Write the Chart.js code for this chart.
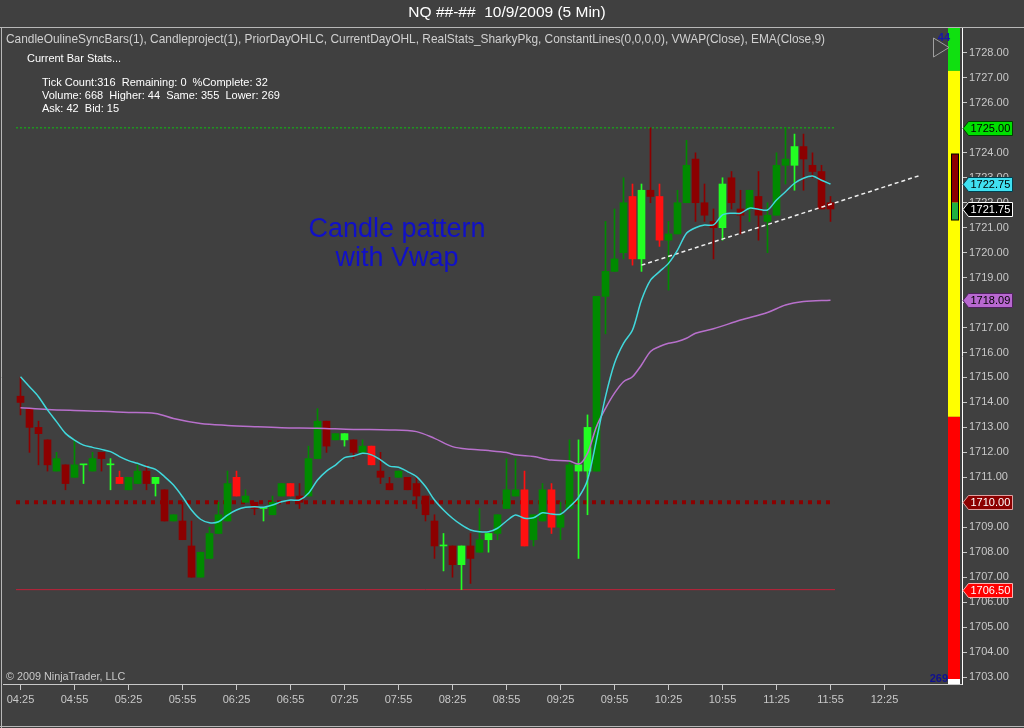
<!DOCTYPE html>
<html>
<head>
<meta charset="utf-8">
<script src="https://cdn.jsdelivr.net/npm/chart.js@4.4.0/dist/chart.umd.min.js"></script>
<style>
  html, body { margin: 0; padding: 0; background: #404040; }
  #wrap { width: 1024px; height: 728px; }
</style>
</head>
<body>
<div id="wrap"><canvas id="nqChart" width="1024" height="728"></canvas></div>
<script>
// NQ 5 min bars, 04:25 .. 11:55 (bar index 0 = 04:25)
const timeLabels = ['04:25','04:55','05:25','05:55','06:25','06:55','07:25','07:55','08:25',
  '08:55','09:25','09:55','10:25','10:55','11:25','11:55','12:25'];

const opens = [1714.25,1713.75,1713.0,1712.5,1711.25,1711.5,1711.0,1711.5,1711.25,1712.0,
  1711.5,1711.0,1710.5,1710.75,1711.25,1710.75,1710.5,1709.25,1709.25,1708.25,
  1707.0,1707.75,1708.75,1709.25,1711.0,1710.0,1710.0,1709.75,1709.5,1710.25,
  1710.75,1710.25,1710.25,1711.75,1713.25,1712.5,1712.5,1712.5,1712.0,1712.25,
  1711.25,1710.75,1711.0,1711.0,1710.75,1710.25,1709.25,1708.25,1708.25,1707.5,
  1708.25,1708.0,1708.5,1708.75,1709.75,1710.25,1710.5,1708.5,1709.25,1710.5,
  1709.0,1709.75,1711.25,1711.25,1711.25,1718.25,1719.25,1720.0,1722.25,1719.75,
  1722.5,1722.25,1720.5,1720.75,1722.0,1723.75,1722.0,1721.25,1721.0,1723.0,
  1721.75,1721.75,1722.25,1721.25,1721.5,1723.5,1723.5,1724.25,1723.5,1723.25,
  1722.0];
const highs = [1715.0,1713.75,1713.25,1712.5,1712.0,1711.5,1712.5,1711.5,1712.0,1712.0,
  1711.75,1711.25,1711.0,1711.5,1711.5,1711.0,1710.5,1709.5,1710.0,1709.25,
  1708.0,1709.0,1710.0,1711.25,1711.25,1710.5,1710.0,1709.75,1710.25,1710.75,
  1710.75,1710.75,1712.25,1713.75,1713.25,1712.75,1712.75,1712.5,1712.5,1712.25,
  1712.0,1711.0,1711.25,1711.0,1711.0,1710.25,1709.5,1708.75,1708.25,1708.25,
  1708.75,1709.75,1708.75,1709.5,1711.75,1711.75,1711.25,1709.5,1710.75,1710.75,
  1710.0,1712.5,1712.5,1713.5,1718.25,1721.25,1721.75,1723.0,1722.75,1722.75,
  1725.0,1722.75,1721.25,1722.5,1724.5,1724.0,1722.75,1721.75,1723.0,1723.25,
  1722.5,1722.5,1723.25,1722.0,1724.0,1725.0,1724.75,1724.75,1724.0,1723.5,
  1722.25];
const lows = [1713.5,1712.0,1711.5,1711.25,1711.25,1710.5,1711.0,1710.75,1711.25,1711.25,
  1710.5,1710.75,1710.5,1710.75,1710.5,1710.25,1709.25,1709.25,1708.5,1707.0,
  1707.0,1707.75,1708.75,1709.25,1710.25,1710.0,1709.5,1709.25,1709.5,1710.25,
  1710.25,1709.75,1710.25,1711.75,1712.0,1712.5,1712.25,1711.75,1712.0,1711.5,
  1710.75,1710.5,1711.0,1710.5,1709.75,1709.25,1707.75,1707.25,1707.0,1706.5,
  1706.75,1708.0,1708.0,1708.5,1709.75,1710.25,1708.25,1708.25,1709.25,1708.75,
  1708.5,1709.75,1707.75,1709.5,1711.25,1716.75,1719.25,1719.75,1719.5,1719.25,
  1722.0,1720.25,1718.5,1720.75,1722.0,1721.25,1721.25,1719.75,1720.5,1721.75,
  1720.75,1721.25,1720.5,1720.0,1721.5,1722.75,1722.5,1722.5,1723.0,1721.75,
  1721.25];
const closes = [1714.0,1713.0,1712.75,1711.5,1711.75,1710.75,1711.5,1711.5,1711.75,1711.75,
  1711.5,1710.75,1711.0,1711.25,1710.75,1711.0,1709.25,1709.5,1708.5,1707.0,
  1708.0,1708.75,1709.5,1710.75,1710.25,1710.25,1709.75,1709.75,1710.0,1710.75,
  1710.25,1710.0,1711.75,1713.25,1712.25,1712.75,1712.75,1712.0,1712.25,1711.5,
  1711.0,1710.5,1711.25,1710.5,1710.25,1709.5,1708.25,1708.25,1707.5,1708.25,
  1707.75,1708.5,1708.75,1709.5,1710.5,1710.5,1708.25,1709.5,1710.5,1709.0,
  1709.5,1711.5,1711.5,1713.0,1718.25,1719.25,1719.75,1722.0,1719.75,1722.5,
  1722.25,1720.5,1720.75,1722.0,1723.5,1722.0,1721.5,1721.0,1722.75,1722.0,
  1721.5,1722.5,1721.5,1721.5,1723.5,1723.75,1724.25,1723.75,1723.25,1721.75,
  1721.75];

// bars flagged by CandleOulineSyncBars (drawn bright)
const patternBars = [7,10,11,15,24,27,30,36,39,47,49,52,56,59,62,63,68,69,71,78,86];

const ema9 = [1715.03,1714.63,1714.23,1713.70,1713.23,1712.76,1712.49,1712.29,1712.20,1712.12,
  1712.03,1711.83,1711.67,1711.56,1711.43,1711.32,1711.03,1710.69,1710.22,1709.69,
  1709.32,1709.18,1709.22,1709.49,1709.69,1709.80,1709.82,1709.80,1709.89,1710.02,
  1710.09,1710.09,1710.36,1710.89,1711.25,1711.49,1711.79,1711.85,1711.96,1711.90,
  1711.70,1711.45,1711.40,1711.23,1711.03,1710.63,1710.09,1709.69,1709.36,1709.09,
  1708.89,1708.82,1708.82,1708.96,1709.25,1709.49,1709.36,1709.38,1709.58,1709.53,
  1709.52,1709.82,1710.19,1710.89,1712.50,1714.23,1715.57,1716.37,1716.90,1718.10,
  1718.90,1719.24,1719.57,1720.10,1720.78,1721.00,1721.11,1721.11,1721.51,1721.58,
  1721.58,1721.78,1721.74,1721.71,1722.11,1722.44,1722.78,1722.98,1723.07,1722.90,
  1722.75];

const vwapBars = [0,3,7,12,15,17,20,23,26,29,33,37,41,44,46,48,50,52,54,55,57,59,61,62,
  63,64,65,66,67,68,69,70,71,72,73,74,75,77,80,83,85,87,90];
const vwapValues = [1713.79,1713.72,1713.67,1713.60,1713.56,1713.36,1713.16,1713.08,1713.03,
  1712.99,1712.97,1712.92,1712.90,1712.83,1712.56,1712.23,1712.12,1712.07,1711.99,1711.90,
  1711.83,1711.69,1711.65,1711.53,1711.96,1713.03,1713.76,1714.37,1714.83,1715.03,1715.50,
  1716.04,1716.24,1716.37,1716.44,1716.57,1716.77,1716.95,1717.30,1717.60,1717.90,1718.04,1718.09];

const dayHigh = 1725.00;
const dayLow = 1706.50;
const constLevel = 1710.00;
const trendFrom = [69, 1719.5];
const trendTo = [100, 1723.1];

// price tags on the right axis
const tagValues = [1725.00, 1722.75, 1721.75, 1718.09, 1710.00, 1706.50];
const tagFill = ['#00e000', '#40e0f0', '#000000', '#b868d0', '#8c0000', '#ff0000'];
const tagText = ['#000000', '#000000', '#ffffff', '#000000', '#ffffff', '#ffffff'];
const tagEdge = ['#004000', '#004050', '#ffffff', '#502060', '#e0a0a0', '#ffb0b0'];

// RealStats
const tickCount = 316, remaining = 0, pctComplete = 32;
const volume = 668, higher = 44, same = 355, lower = 269;
const askVol = 42, bidVol = 15;

function candleColor(i) {
  const up = closes[i] >= opens[i];
  if (patternBars.includes(i)) return up ? '#22ff22' : '#ff1010';
  return up ? '#008a00' : '#8c0000';
}
const colors = opens.map((o, i) => candleColor(i));

const overlay = {
  id: 'overlay',
  beforeDraw(chart) {
    const c = chart.ctx;
    c.save();
    c.fillStyle = '#404040';
    c.fillRect(0, 0, chart.width, chart.height);
    c.restore();
  },
  afterDraw(chart) {
    const c = chart.ctx;
    const y = chart.scales.y;
    c.save();

    // frame
    c.strokeStyle = '#b8b8b8';
    c.lineWidth = 1;
    c.beginPath();
    c.moveTo(0, 27.5); c.lineTo(1024, 27.5);
    c.moveTo(1.5, 27.5); c.lineTo(1.5, 728);
    c.moveTo(0, 726.5); c.lineTo(1024, 726.5);
    c.stroke();

    c.textBaseline = 'middle';
    c.fillStyle = '#ffffff';
    c.font = '15.5px "Liberation Sans", Arial, sans-serif';
    c.textAlign = 'center';
    c.fillText('NQ ##-##  10/9/2009 (5 Min)', 507, 13);

    c.textAlign = 'left';
    c.fillStyle = '#d0d0d0';
    c.font = '11.9px "Liberation Sans", Arial, sans-serif';
    c.fillText('CandleOulineSyncBars(1), Candleproject(1), PriorDayOHLC, CurrentDayOHL, RealStats_SharkyPkg, ConstantLines(0,0,0,0), VWAP(Close), EMA(Close,9)', 6, 40);

    c.fillStyle = '#ffffff';
    c.font = '11px "Liberation Sans", Arial, sans-serif';
    c.fillText('Current Bar Stats...', 27, 59);
    c.fillText('Tick Count:' + tickCount + '  Remaining: ' + remaining + '  %Complete: ' + pctComplete, 42, 83);
    c.fillText('Volume: ' + volume + '  Higher: ' + higher + '  Same: ' + same + '  Lower: ' + lower, 42, 96);
    c.fillText('Ask: ' + askVol + '  Bid: ' + bidVol, 42, 109);

    c.fillStyle = '#c8c8c8';
    c.font = '10.8px "Liberation Sans", Arial, sans-serif';
    c.fillText('\u00a9 2009 NinjaTrader, LLC', 6, 677);

    c.fillStyle = '#1010c8';
    c.font = '27px "Liberation Sans", Arial, sans-serif';
    c.textAlign = 'center';
    c.fillText('Candle pattern', 397, 230);
    c.fillText('with Vwap', 397, 259);

    // volume split bar (higher / same / lower)
    const top = 28, span = 651;
    const gH = span * higher / volume, yH = span * same / volume, rH = span * lower / volume;
    c.fillStyle = '#10e010'; c.fillRect(948, top, 12, gH);
    c.fillStyle = '#ffff00'; c.fillRect(948, top + gH, 12, yH);
    c.fillStyle = '#ff0000'; c.fillRect(948, top + gH + yH, 12, rH);
    c.fillStyle = '#ffffff'; c.fillRect(948, top + span, 12, 684 - top - span);

    // ask / bid bar
    const bTop = 154, bH = 66;
    const aH = bH * askVol / (askVol + bidVol);
    c.fillStyle = '#8c0000'; c.fillRect(951.5, bTop, 7, aH);
    c.fillStyle = '#20b040'; c.fillRect(951.5, bTop + aH, 7, bH - aH);
    c.strokeStyle = '#000000'; c.strokeRect(951.5, bTop, 7, bH);

    c.strokeStyle = '#a0a0a0';
    c.beginPath();
    c.moveTo(933.5, 38); c.lineTo(933.5, 57); c.lineTo(949, 47.5); c.closePath();
    c.stroke();

    c.font = 'bold 11px "Liberation Sans", Arial, sans-serif';
    c.fillStyle = '#1818a8';
    c.textAlign = 'right';
    c.fillText(String(higher), 950, 38);
    c.fillStyle = '#101090';
    c.fillText(String(lower), 948, 679);

    // price tags
    c.font = '11px "Liberation Sans", Arial, sans-serif';
    c.textAlign = 'left';
    tagValues.forEach((v, k) => {
      const py = Math.round(y.getPixelForValue(v)) + 0.5;
      c.beginPath();
      c.moveTo(963, py);
      c.lineTo(968.5, py - 7);
      c.lineTo(1012.5, py - 7);
      c.lineTo(1012.5, py + 7);
      c.lineTo(968.5, py + 7);
      c.closePath();
      c.fillStyle = tagFill[k];
      c.fill();
      c.strokeStyle = tagEdge[k];
      c.stroke();
      c.fillStyle = tagText[k];
      c.fillText(v.toFixed(2), 970.5, py + 0.5);
    });
    c.restore();
  }
};

Chart.defaults.font.family = '"Liberation Sans", Arial, sans-serif';

new Chart(document.getElementById('nqChart').getContext('2d'), {
  type: 'bar',
  data: {
    datasets: [
      {
        type: 'line', label: 'EMA(9)', order: 0,
        data: ema9.map((v, i) => ({ x: i, y: v })),
        borderColor: '#40d8dc', borderWidth: 1.5, pointRadius: 0, tension: 0.3
      },
      {
        type: 'line', label: 'VWAP', order: 0,
        data: vwapBars.map((b, k) => ({ x: b, y: vwapValues[k] })),
        borderColor: '#b870cc', borderWidth: 1.5, pointRadius: 0, cubicInterpolationMode: 'monotone'
      },
      {
        type: 'line', label: 'trend', order: 0,
        data: [{ x: trendFrom[0], y: trendFrom[1] }, { x: trendTo[0], y: trendTo[1] }],
        borderColor: '#f0f0f0', borderWidth: 1.5, borderDash: [4, 3], pointRadius: 0
      },
      {
        label: 'body', order: 1,
        data: opens.map((o, i) => ({ x: i, y: [o, closes[i]] })),
        backgroundColor: colors, borderWidth: 0, barThickness: 7, minBarLength: 1, grouped: false
      },
      {
        label: 'wick', order: 2,
        data: lows.map((l, i) => ({ x: i, y: [l, highs[i]] })),
        backgroundColor: colors, borderWidth: 0, barThickness: 1, grouped: false
      },
      {
        type: 'line', label: 'high', order: 5,
        data: [{ x: -0.5, y: dayHigh }, { x: 90.5, y: dayHigh }],
        borderColor: '#10c010', borderWidth: 1, borderDash: [2, 2], pointRadius: 0
      },
      {
        type: 'line', label: 'const', order: 5,
        data: [{ x: -0.5, y: constLevel }, { x: 90.5, y: constLevel }],
        borderColor: '#8c0000', borderWidth: 4, borderDash: [4, 5], borderCapStyle: 'butt', pointRadius: 0
      },
      {
        type: 'line', label: 'low', order: 5,
        data: [{ x: -0.5, y: dayLow }, { x: 90.5, y: dayLow }],
        borderColor: '#c02038', borderWidth: 1, pointRadius: 0
      }
    ]
  },
  options: {
    responsive: false,
    animation: false,
    devicePixelRatio: 1,
    layout: { padding: { left: 3, top: 28, right: 0, bottom: 0 } },
    plugins: { legend: { display: false }, tooltip: { enabled: false }, title: { display: false } },
    scales: {
      x: {
        type: 'linear',
        offset: false,
        min: -1.9444,
        max: 104.611,
        afterFit: (s) => { s.height = 44; },
        afterBuildTicks: (s) => { s.ticks = timeLabels.map((t, k) => ({ value: k * 6 })); },
        grid: { drawOnChartArea: false, drawTicks: true, tickLength: 6, color: '#c8c8c8', offset: false },
        border: { display: true, color: '#c8c8c8' },
        ticks: {
          autoSkip: false, maxRotation: 0, padding: 3, color: '#c8c8c8',
          font: { size: 11 },
          callback: (v) => timeLabels[Math.round(v / 6)]
        }
      },
      y: {
        position: 'right',
        min: 1702.72,
        max: 1729.0,
        afterFit: (s) => { s.width = 62; },
        afterBuildTicks: (s) => {
          const t = [];
          for (let p = 1703; p <= 1728; p++) t.push({ value: p });
          s.ticks = t;
        },
        grid: { drawOnChartArea: false, drawTicks: true, tickLength: 5, color: '#c8c8c8' },
        border: { display: true, color: '#ffffff' },
        ticks: {
          padding: 2, color: '#c8c8c8', font: { size: 11 },
          callback: (v) => Number(v).toFixed(2)
        }
      }
    }
  },
  plugins: [overlay]
});
</script>
</body>
</html>
